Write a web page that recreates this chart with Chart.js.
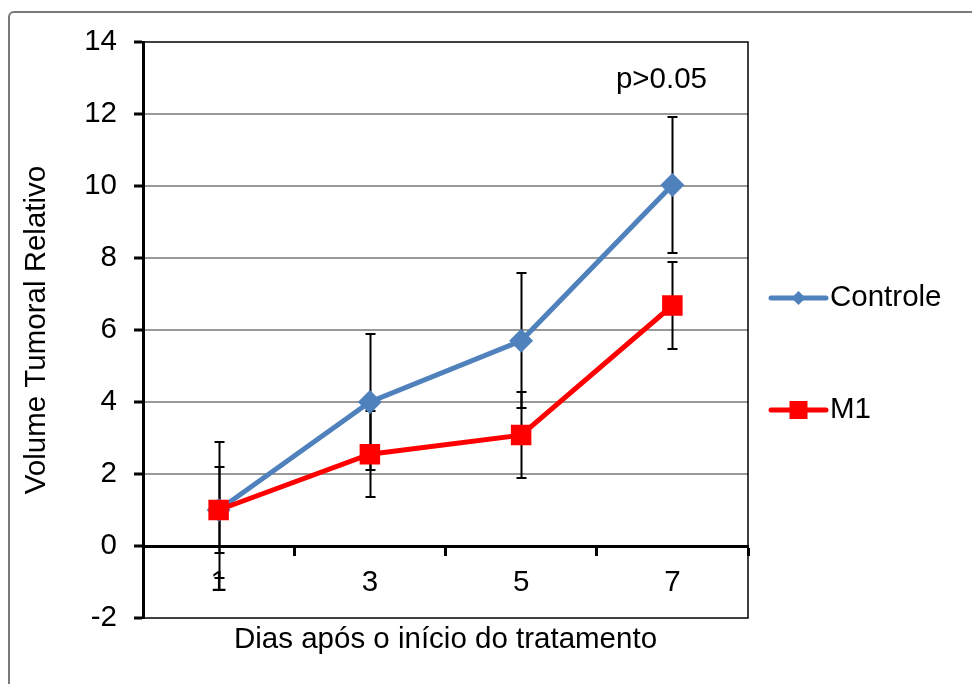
<!DOCTYPE html>
<html>
<head>
<meta charset="utf-8">
<script src="https://cdn.jsdelivr.net/npm/chart.js@4/dist/chart.umd.min.js"></script>
<style>
  html, body { margin: 0; padding: 0; background: #fff; overflow: hidden; }
  #wrap { position: relative; width: 972px; height: 684px; }
  #frame {
    position: absolute; left: 8px; top: 11px; width: 1000px; height: 1000px;
    border: 2px solid #7a7a7a; border-radius: 6px;
  }
  #chart { position: absolute; left: 0; top: 0; }
</style>
</head>
<body>
<div id="wrap">
  <div id="frame"></div>
  <canvas id="chart" width="972" height="684"></canvas>
</div>
<script>
// Volume tumoral relativo por dia de tratamento

const dias = ["1", "3", "5", "7"];

const controle = [1.0, 4.0, 5.7, 10.03];
const controleErro = [1.89, 1.9, 1.87, 1.89];

const m1 = [1.0, 2.55, 3.08, 6.68];
const m1Erro = [1.19, 1.2, 1.2, 1.2];

const yTicks = [-2, 0, 2, 4, 6, 8, 10, 12, 14];

const FONTE = "'Liberation Sans', Arial, sans-serif";
const TAM = 29.5;

// barras de erro (desenhadas atrás das linhas)
const barrasErro = {
  id: "barrasErro",
  beforeDatasetsDraw(chart) {
    const ctx = chart.ctx;
    const x = chart.scales.x;
    const y = chart.scales.y;
    ctx.save();
    ctx.strokeStyle = "#000";
    ctx.lineWidth = 2;
    chart.data.datasets.forEach(ds => {
      ds.data.forEach((v, i) => {
        const px = Math.round(x.getPixelForValue(i)) + 0.5;
        const yTop = Math.round(y.getPixelForValue(v + ds.erros[i]));
        const yBot = Math.round(y.getPixelForValue(v - ds.erros[i]));
        ctx.beginPath();
        ctx.moveTo(px, yTop);
        ctx.lineTo(px, yBot);
        ctx.moveTo(px - 5, yTop);
        ctx.lineTo(px + 5, yTop);
        ctx.moveTo(px - 5, yBot);
        ctx.lineTo(px + 5, yBot);
        ctx.stroke();
      });
    });
    ctx.restore();
  }
};

// moldura da área do gráfico
const moldura = {
  id: "moldura",
  beforeDatasetsDraw(chart) {
    const a = chart.chartArea;
    const ctx = chart.ctx;
    ctx.save();
    ctx.strokeStyle = "#000";
    ctx.lineWidth = 1.5;
    ctx.strokeRect(a.left, a.top, a.right - a.left, a.bottom - a.top);
    ctx.restore();
  }
};

// legenda à direita e texto do p-valor
const legendaTexto = {
  id: "legendaTexto",
  afterDraw(chart) {
    const ctx = chart.ctx;
    const a = chart.chartArea;
    const y = chart.scales.y;
    ctx.save();
    ctx.font = TAM + "px " + FONTE;
    ctx.fillStyle = "#000";
    ctx.textBaseline = "middle";

    ctx.textAlign = "right";
    ctx.fillText("p>0.05", a.right - 41, y.getPixelForValue(12.95));

    const linhas = [a.top + 256, a.top + 368];
    chart.data.datasets.forEach((ds, i) => {
      const ly = linhas[i];
      const x0 = a.right + 23, x1 = a.right + 78, xm = (x0 + x1) / 2;
      ctx.strokeStyle = ds.borderColor;
      ctx.lineWidth = 5;
      ctx.lineCap = "round";
      ctx.beginPath();
      ctx.moveTo(x0, ly);
      ctx.lineTo(x1, ly);
      ctx.stroke();
      ctx.fillStyle = ds.borderColor;
      ctx.beginPath();
      if (ds.pointStyle === "rectRot") {
        ctx.moveTo(xm, ly - 7);
        ctx.lineTo(xm + 7, ly);
        ctx.lineTo(xm, ly + 7);
        ctx.lineTo(xm - 7, ly);
        ctx.closePath();
      } else {
        ctx.rect(xm - 9, ly - 9, 18, 18);
      }
      ctx.fill();
      ctx.fillStyle = "#000";
      ctx.textAlign = "left";
      ctx.fillText(ds.label, a.right + 82, ly);
    });
    ctx.restore();
  }
};

new Chart(document.getElementById("chart").getContext("2d"), {
  type: "line",
  data: {
    labels: dias,
    datasets: [
      {
        label: "Controle",
        data: controle,
        erros: controleErro,
        order: 1,
        borderColor: "#4F81BD",
        backgroundColor: "#4F81BD",
        borderWidth: 5,
        pointStyle: "rectRot",
        pointRadius: 12,
        pointBorderWidth: 0,
        pointHoverRadius: 12,
        tension: 0
      },
      {
        label: "M1",
        data: m1,
        erros: m1Erro,
        order: 0,
        borderColor: "#FF0000",
        backgroundColor: "#FF0000",
        borderWidth: 5,
        pointStyle: "rect",
        pointRadius: 14.5,
        pointBorderWidth: 0,
        pointHoverRadius: 14.5,
        tension: 0
      }
    ]
  },
  options: {
    responsive: false,
    animation: false,
    events: [],
    layout: {
      padding: { top: 42, right: 224, bottom: 66, left: 0 }
    },
    plugins: {
      legend: { display: false },
      tooltip: { enabled: false }
    },
    scales: {
      x: {
        type: "category",
        position: { y: 0 },
        offset: true,
        grid: {
          offset: true,
          drawOnChartArea: false,
          tickColor: "#000",
          tickWidth: 3,
          tickLength: 8
        },
        border: { display: true, color: "#000", width: 3 },
        ticks: {
          color: "#000",
          padding: 11,
          maxRotation: 0,
          font: { family: FONTE, size: TAM }
        },
        title: {
          display: true,
          text: "Dias após o início do tratamento",
          color: "#000",
          padding: 0,
          font: { family: FONTE, size: TAM }
        },
        afterFit(scale) { scale.height = 112; }
      },
      y: {
        min: -2,
        max: 14,
        afterBuildTicks(scale) {
          scale.ticks = yTicks.map(v => ({ value: v }));
        },
        grid: {
          color: c => (c.tick && (c.tick.value === 14 || c.tick.value === -2 || c.tick.value === 0)) ? "rgba(0,0,0,0)" : "#999",
          lineWidth: 2,
          tickColor: "#000",
          tickWidth: 3,
          tickLength: 9
        },
        border: { display: true, color: "#000", width: 3 },
        ticks: {
          color: "#000",
          padding: 17,
          font: { family: FONTE, size: TAM }
        },
        title: {
          display: true,
          text: "Volume Tumoral Relativo",
          color: "#000",
          padding: { top: 19, bottom: 0 },
          font: { family: FONTE, size: TAM }
        },
        afterFit(scale) { scale.width = 143; }
      }
    }
  },
  plugins: [moldura, barrasErro, legendaTexto]
});
</script>
</body>
</html>
